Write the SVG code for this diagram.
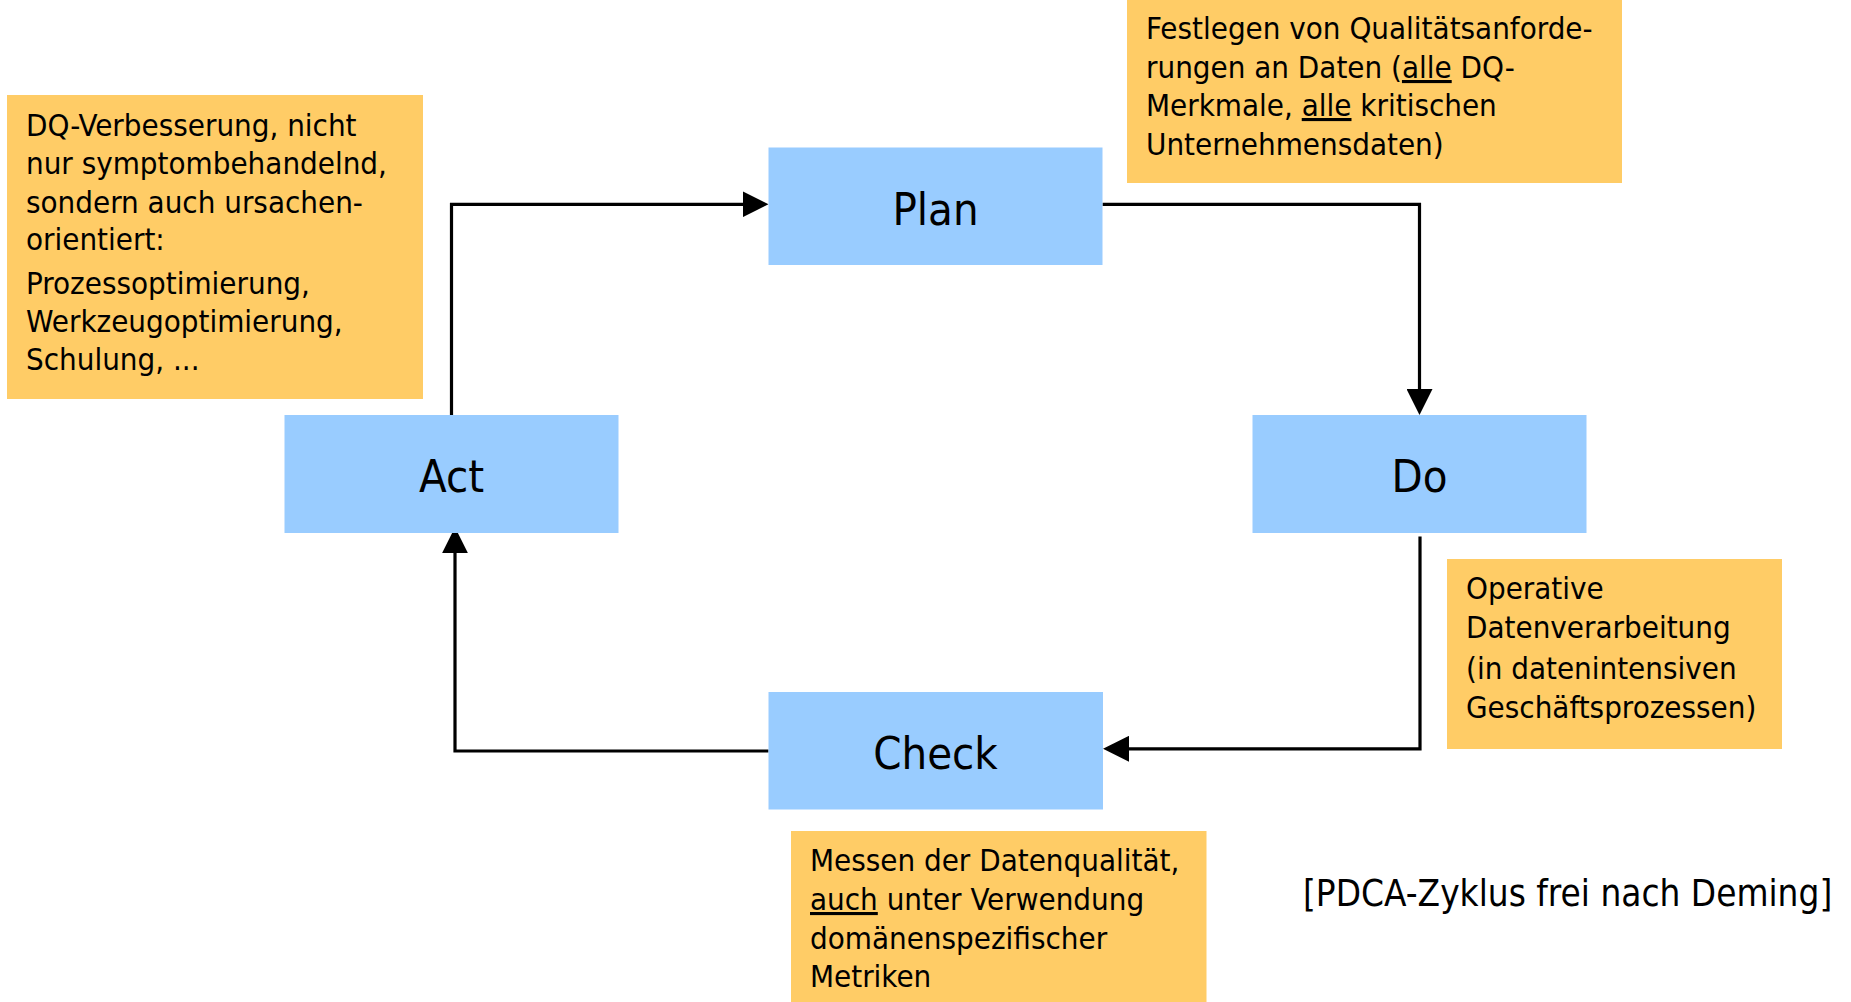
<svg xmlns="http://www.w3.org/2000/svg" width="1851" height="1002" viewBox="0 0 1851 1002">
<style>
  .step { fill: #99CCFF; }
  .note { fill: #FFCC66; }
  .title { font-family: "DejaVu Sans Condensed", "DejaVu Sans", sans-serif; font-stretch: condensed; font-size: 45px; fill: #000; text-anchor: middle; }
  .txt { font-family: "DejaVu Sans Condensed", "DejaVu Sans", sans-serif; font-stretch: condensed; font-size: 31px; fill: #000; }
  .cap { font-family: "DejaVu Sans Condensed", "DejaVu Sans", sans-serif; font-stretch: condensed; font-size: 36.6px; fill: #000; }
  .u { text-decoration: underline; }
  .conn { fill: none; stroke: #000; stroke-width: 3.2; stroke-linejoin: miter; }
</style>
<defs>
  <marker id="arr" markerUnits="userSpaceOnUse" markerWidth="26" markerHeight="26" viewBox="0 0 26 26" refX="13" refY="13" orient="auto">
    <path d="M0,0 L26,13 L0,26 Z" fill="#000"/>
  </marker>
</defs>
<rect x="0" y="0" width="1851" height="1002" fill="#FFFFFF"/>

<g id="note-act">
  <rect class="note" x="7" y="95" width="416" height="304"/>
  <text class="txt" x="26" y="136">DQ-Verbesserung, nicht</text>
  <text class="txt" x="26" y="174">nur symptombehandelnd,</text>
  <text class="txt" x="26" y="213">sondern auch ursachen-</text>
  <text class="txt" x="26" y="250">orientiert:</text>
  <text class="txt" x="26" y="294">Prozessoptimierung,</text>
  <text class="txt" x="26" y="332">Werkzeugoptimierung,</text>
  <text class="txt" x="26" y="370">Schulung, ...</text>
</g>

<g id="note-plan">
  <rect class="note" x="1127" y="0" width="495" height="183"/>
  <text class="txt" x="1146" y="39">Festlegen von Qualitätsanforde-</text>
  <text class="txt" x="1146" y="78">rungen an Daten (<tspan class="u">alle</tspan> DQ-</text>
  <text class="txt" x="1146" y="116">Merkmale, <tspan class="u">alle</tspan> kritischen</text>
  <text class="txt" x="1146" y="155">Unternehmensdaten)</text>
</g>

<g id="note-do">
  <rect class="note" x="1447" y="559" width="335" height="190"/>
  <text class="txt" x="1466" y="599">Operative</text>
  <text class="txt" x="1466" y="638">Datenverarbeitung</text>
  <text class="txt" x="1466" y="679">(in datenintensiven</text>
  <text class="txt" x="1466" y="718">Geschäftsprozessen)</text>
</g>

<g id="note-check">
  <rect class="note" x="791" y="831" width="415.5" height="171"/>
  <text class="txt" x="810" y="871">Messen der Datenqualität,</text>
  <text class="txt" x="810" y="910"><tspan class="u">auch</tspan> unter Verwendung</text>
  <text class="txt" x="810" y="949">domänenspezifischer</text>
  <text class="txt" x="810" y="987">Metriken</text>
</g>

<g id="connectors">
  <path class="conn" d="M451.5,415 V204.3 H755.5" marker-end="url(#arr)"/>
  <path class="conn" d="M1102.5,204.3 H1419.5 V402" marker-end="url(#arr)"/>
  <path class="conn" d="M1420,536.5 V748.8 H1116" marker-end="url(#arr)"/>
  <path class="conn" d="M768.5,751 H455 V540.3" marker-end="url(#arr)"/>
</g>

<g id="plan">
  <rect class="step" x="768.5" y="147.5" width="334" height="117.5"/>
  <text class="title" x="935.5" y="225">Plan</text>
</g>
<g id="do">
  <rect class="step" x="1252.5" y="415" width="334" height="118"/>
  <text class="title" x="1419.5" y="492">Do</text>
</g>
<g id="check">
  <rect class="step" x="768.5" y="692" width="334.5" height="117.5"/>
  <text class="title" x="935.5" y="769">Check</text>
</g>
<g id="act">
  <rect class="step" x="284.5" y="415" width="334" height="118"/>
  <text class="title" x="451.5" y="492">Act</text>
</g>

<g id="caption">
  <text class="cap" x="1303" y="906">[PDCA-Zyklus frei nach Deming]</text>
</g>
</svg>
